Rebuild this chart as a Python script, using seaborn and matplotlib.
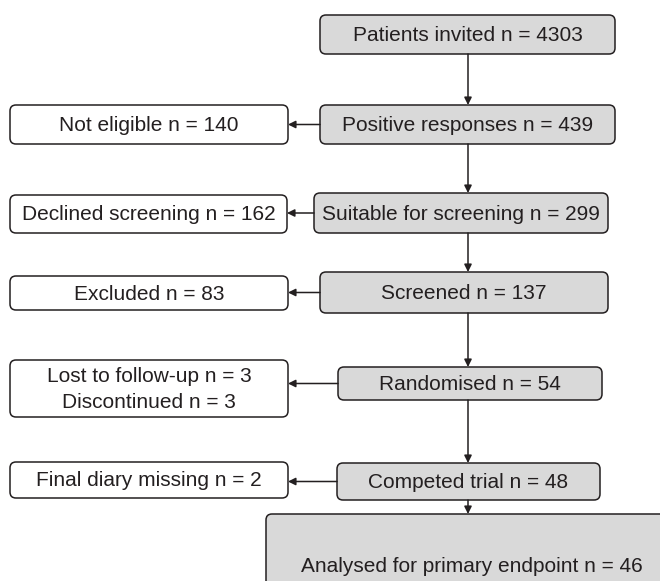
import matplotlib
matplotlib.use("Agg")
import matplotlib.pyplot as plt
from matplotlib.patches import FancyBboxPatch
import seaborn as sns

# Flow stages (main column) and their counts
main_steps = ["Patients invited", "Positive responses", "Suitable for screening",
              "Screened", "Randomised", "Competed trial",
              "Analysed for primary endpoint"]
main_n = [4303, 439, 299, 137, 54, 48, 46]

# Exclusions branching off stages 2..6
excl_labels = [["Not eligible"], ["Declined screening"], ["Excluded"],
               ["Lost to follow-up", "Discontinued"], ["Final diary missing"]]
excl_n = [[140], [162], [83], [3, 3], [2]]

# Layout in pixel coordinates (x0, y0, x1, y1)
main_boxes = [(320, 15, 615, 54), (320, 105, 615, 144), (314, 193, 608, 233),
              (320, 272, 608, 313), (338, 367, 602, 400), (337, 463, 600, 500),
              (266, 514, 690, 620)]
excl_boxes = [(10, 105, 288, 144), (10, 195, 287, 233), (10, 276, 288, 310),
              (10, 360, 288, 417), (10, 462, 288, 498)]
arrow_x = 468

sns.set_theme(style="white")
plt.rcParams['font.family'] = ['Liberation Sans', 'DejaVu Sans']

grey = "#d9d9d9"
ink = "#231f20"
fsize = 15

fig = plt.figure(figsize=(6.6, 5.81), dpi=100)
ax = fig.add_axes([0, 0, 1, 1])
ax.set_xlim(0, 660)
ax.set_ylim(581, 0)
ax.axis("off")


def draw_box(b, face):
    x0, y0, x1, y1 = b
    ax.add_patch(FancyBboxPatch((x0, y0), x1 - x0, y1 - y0,
                                boxstyle="round,pad=0,rounding_size=6",
                                facecolor=face, edgecolor=ink, linewidth=1.1,
                                clip_on=False))
    return (x0 + x1) / 2, (y0 + y1) / 2


for i, (label, n) in enumerate(zip(main_steps, main_n)):
    cx, cy = draw_box(main_boxes[i], grey)
    if i == len(main_steps) - 1:
        cx, cy = 472, 566
    ax.text(cx, cy + 1, f"{label} n = {n}", ha="center", va="center",
            fontsize=fsize, color=ink)

for j, (labs, ns) in enumerate(zip(excl_labels, excl_n)):
    cx, cy = draw_box(excl_boxes[j], "white")
    txt = "\n".join(f"{l} n = {n}" for l, n in zip(labs, ns))
    ax.text(cx, cy + 1, txt, ha="center", va="center", fontsize=fsize,
            color=ink, linespacing=1.4)

arrow_kw = dict(arrowstyle="-|>", color=ink, lw=1.1, mutation_scale=11,
                shrinkA=0, shrinkB=0)

# vertical arrows down the main column
for a, b in zip(main_boxes[:-1], main_boxes[1:]):
    ax.annotate("", xy=(arrow_x, b[1]), xytext=(arrow_x, a[3]),
                arrowprops=arrow_kw)

# horizontal arrows to exclusion boxes
for k, eb in enumerate(excl_boxes):
    mb = main_boxes[k + 1]
    y = (mb[1] + mb[3]) / 2
    ax.annotate("", xy=(eb[2], y), xytext=(mb[0], y), arrowprops=arrow_kw)

fig.savefig("out.png", dpi=100)
